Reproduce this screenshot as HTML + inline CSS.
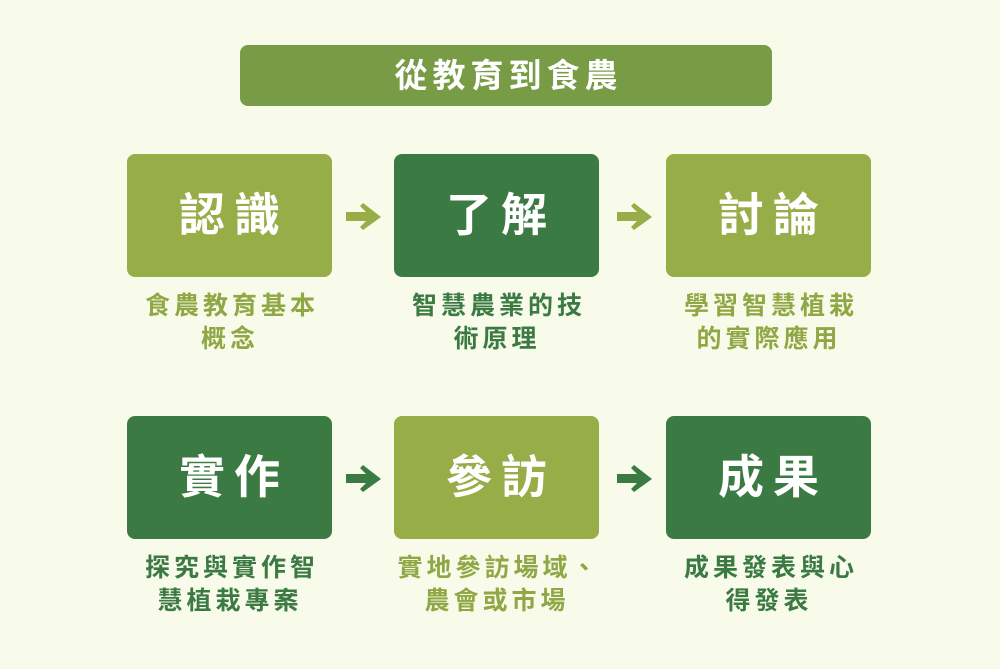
<!DOCTYPE html>
<html><head><meta charset="utf-8"><style>
body{margin:0;width:1000px;height:669px;background:#f8fbea;position:relative;overflow:hidden;font-family:"Liberation Sans","Noto Sans CJK TC",sans-serif;}
.t{position:absolute;left:240px;top:45px;width:532px;height:61px;background:#789b45;border-radius:8px;color:#fff;font-weight:bold;font-size:33px;letter-spacing:5px;text-indent:5px;text-align:center;line-height:61px;}
.b{position:absolute;width:205px;height:123px;border-radius:8px;color:#fff;font-weight:bold;font-size:46px;letter-spacing:9px;text-align:center;line-height:123px;text-indent:9px;}
.l{background:#96ad48}.d{background:#3b7b43}
.c{position:absolute;width:260px;font-weight:bold;font-size:25px;letter-spacing:4px;text-indent:4px;text-align:center;line-height:33px;}
.cl{color:#8fa845}.cd{color:#3b7b43}
svg{position:absolute}
</style></head><body>
<div class="t">從教育到食農</div>
<div class="b l" style="left:127px;top:154px">認識</div>
<div class="b d" style="left:394px;top:154px">了解</div>
<div class="b l" style="left:666px;top:154px">討論</div>
<div class="b d" style="left:127px;top:416px">實作</div>
<div class="b l" style="left:394px;top:416px">參訪</div>
<div class="b d" style="left:666px;top:416px">成果</div>
<div class="c cl" style="left:100px;top:290px">食農教育基本<br>概念</div>
<div class="c cd" style="left:367px;top:290px">智慧農業的技<br>術原理</div>
<div class="c cl" style="left:639px;top:290px">學習智慧植栽<br>的實際應用</div>
<div class="c cd" style="left:100px;top:552px">探究與實作智<br>慧植栽專案</div>
<div class="c cl" style="left:367px;top:552px">實地參訪場域、<br>農會或市場</div>
<div class="c cd" style="left:639px;top:552px">成果發表與心<br>得發表</div>
<svg style="left:346px;top:203px" width="36" height="28"><path d="M0 9H20L14 3L17 0L35 14L17 27L14 24L20 18H0Z" fill="#96ad48"/></svg>
<svg style="left:617px;top:203px" width="36" height="28"><path d="M0 9H20L14 3L17 0L35 14L17 27L14 24L20 18H0Z" fill="#96ad48"/></svg>
<svg style="left:346px;top:465px" width="36" height="28"><path d="M0 9H20L14 3L17 0L35 14L17 27L14 24L20 18H0Z" fill="#3b7b43"/></svg>
<svg style="left:617px;top:465px" width="36" height="28"><path d="M0 9H20L14 3L17 0L35 14L17 27L14 24L20 18H0Z" fill="#3b7b43"/></svg>
</body></html>
